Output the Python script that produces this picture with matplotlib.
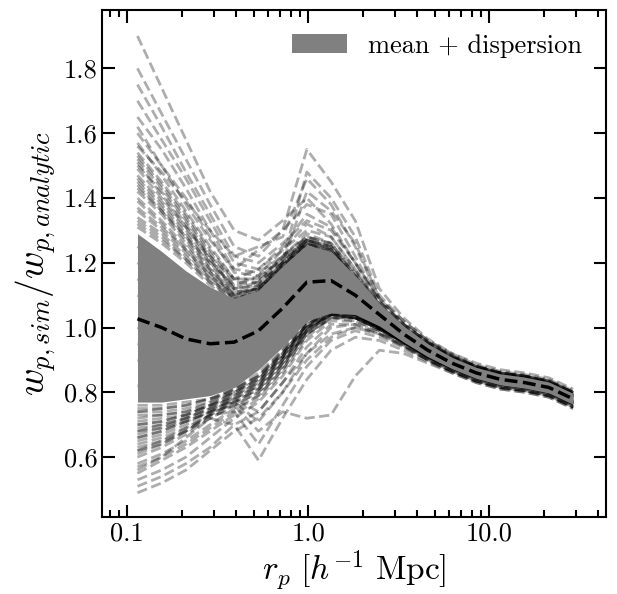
import numpy as np
import matplotlib
matplotlib.use("Agg")
import matplotlib.pyplot as plt
from matplotlib.ticker import FixedLocator, FixedFormatter, LogLocator, NullFormatter

plt.rcParams["font.family"] = "serif"
plt.rcParams["font.serif"] = ["cmr10"]
plt.rcParams["mathtext.fontset"] = "cm"
plt.rcParams["axes.unicode_minus"] = False
plt.rcParams["axes.formatter.use_mathtext"] = True

# projected separation bins (h^-1 Mpc)
R_P = [0.114, 0.155, 0.211, 0.287, 0.390, 0.531, 0.722, 0.982, 1.336, 1.817,
       2.47, 3.36, 4.57, 6.22, 8.46, 11.5, 15.7, 21.3, 29.0]

# mean ratio and mean +/- dispersion
MEAN = [1.027, 1.00, 0.965, 0.95, 0.955, 0.99, 1.06, 1.14, 1.145, 1.10,
        1.04, 0.98, 0.93, 0.89, 0.86, 0.84, 0.83, 0.815, 0.78]
UPPER = [1.29, 1.235, 1.175, 1.125, 1.09, 1.115, 1.19, 1.255, 1.235, 1.16,
         1.075, 1.005, 0.95, 0.908, 0.877, 0.857, 0.847, 0.832, 0.797]
LOWER = [0.77, 0.77, 0.78, 0.79, 0.815, 0.87, 0.94, 1.02, 1.045, 1.04,
         1.005, 0.955, 0.91, 0.873, 0.843, 0.823, 0.813, 0.798, 0.763]

# individual realisations
HIGH = [
    [1.90, 1.74, 1.58, 1.42, 1.30, 1.27, 1.33, 1.40, 1.32, 1.20, 1.09, 1.02, 0.96, 0.92, 0.89, 0.87, 0.86, 0.845, 0.81],
    [1.80, 1.66, 1.52, 1.38, 1.25, 1.22, 1.30, 1.55, 1.45, 1.33, 1.12, 1.03, 0.965, 0.92, 0.885, 0.865, 0.855, 0.84, 0.805],
    [1.75, 1.62, 1.48, 1.35, 1.22, 1.20, 1.26, 1.33, 1.30, 1.20, 1.08, 1.01, 0.955, 0.915, 0.88, 0.86, 0.85, 0.835, 0.80],
    [1.70, 1.58, 1.46, 1.33, 1.20, 1.18, 1.24, 1.30, 1.28, 1.18, 1.07, 1.00, 0.95, 0.91, 0.88, 0.86, 0.85, 0.83, 0.80],
    [1.65, 1.55, 1.43, 1.30, 1.18, 1.17, 1.22, 1.28, 1.26, 1.17, 1.07, 1.00, 0.95, 0.905, 0.875, 0.855, 0.845, 0.83, 0.795],
    [1.60, 1.50, 1.40, 1.28, 1.17, 1.16, 1.21, 1.48, 1.40, 1.28, 1.10, 1.02, 0.96, 0.915, 0.88, 0.86, 0.85, 0.835, 0.80],
    [1.57, 1.47, 1.36, 1.25, 1.15, 1.15, 1.21, 1.27, 1.25, 1.16, 1.06, 0.995, 0.945, 0.905, 0.875, 0.855, 0.845, 0.83, 0.795],
    [1.53, 1.44, 1.34, 1.23, 1.14, 1.14, 1.20, 1.26, 1.24, 1.15, 1.06, 0.99, 0.94, 0.90, 0.87, 0.85, 0.84, 0.825, 0.79],
    [1.50, 1.42, 1.32, 1.21, 1.12, 1.13, 1.20, 1.27, 1.24, 1.15, 1.06, 0.99, 0.94, 0.90, 0.87, 0.85, 0.84, 0.825, 0.79],
    [1.47, 1.39, 1.30, 1.20, 1.12, 1.14, 1.22, 1.29, 1.26, 1.17, 1.07, 1.00, 0.945, 0.905, 0.875, 0.855, 0.845, 0.83, 0.795],
    [1.44, 1.36, 1.28, 1.18, 1.11, 1.12, 1.19, 1.26, 1.23, 1.14, 1.05, 0.99, 0.94, 0.90, 0.87, 0.85, 0.84, 0.825, 0.79],
    [1.42, 1.35, 1.26, 1.17, 1.10, 1.13, 1.20, 1.42, 1.36, 1.26, 1.09, 1.01, 0.955, 0.91, 0.88, 0.86, 0.85, 0.83, 0.80],
    [1.39, 1.32, 1.24, 1.16, 1.10, 1.12, 1.19, 1.25, 1.22, 1.14, 1.05, 0.985, 0.935, 0.895, 0.865, 0.845, 0.835, 0.82, 0.785],
    [1.36, 1.30, 1.23, 1.15, 1.09, 1.11, 1.18, 1.24, 1.22, 1.13, 1.05, 0.985, 0.935, 0.895, 0.865, 0.845, 0.835, 0.82, 0.785],
    [1.33, 1.28, 1.21, 1.14, 1.09, 1.12, 1.19, 1.26, 1.23, 1.15, 1.06, 0.99, 0.94, 0.90, 0.87, 0.85, 0.84, 0.825, 0.79],
    [1.31, 1.26, 1.20, 1.13, 1.08, 1.11, 1.18, 1.25, 1.23, 1.14, 1.05, 0.985, 0.935, 0.895, 0.865, 0.845, 0.835, 0.82, 0.785],
    [1.62, 1.50, 1.38, 1.27, 1.18, 1.24, 1.30, 1.38, 1.35, 1.22, 1.08, 1.01, 0.955, 0.91, 0.88, 0.86, 0.85, 0.835, 0.80],
    [1.56, 1.48, 1.39, 1.30, 1.22, 1.25, 1.28, 1.46, 1.38, 1.25, 1.09, 1.01, 0.955, 0.91, 0.88, 0.86, 0.85, 0.835, 0.80],
    [1.54, 1.45, 1.35, 1.24, 1.15, 1.15, 1.22, 1.28, 1.26, 1.16, 1.07, 1.00, 0.945, 0.905, 0.875, 0.855, 0.845, 0.83, 0.795],
    [1.52, 1.43, 1.33, 1.22, 1.13, 1.14, 1.21, 1.27, 1.25, 1.16, 1.06, 0.995, 0.945, 0.905, 0.875, 0.855, 0.845, 0.83, 0.795],
    [1.49, 1.40, 1.31, 1.21, 1.12, 1.13, 1.20, 1.28, 1.25, 1.15, 1.06, 0.99, 0.94, 0.90, 0.87, 0.85, 0.84, 0.825, 0.79],
    [1.46, 1.38, 1.29, 1.19, 1.11, 1.12, 1.20, 1.27, 1.24, 1.15, 1.06, 0.99, 0.94, 0.90, 0.87, 0.85, 0.84, 0.825, 0.79],
    [1.43, 1.36, 1.27, 1.18, 1.10, 1.12, 1.19, 1.26, 1.24, 1.14, 1.05, 0.99, 0.94, 0.90, 0.87, 0.85, 0.84, 0.825, 0.79],
    [1.40, 1.33, 1.25, 1.17, 1.10, 1.12, 1.19, 1.27, 1.25, 1.15, 1.06, 0.99, 0.94, 0.90, 0.87, 0.85, 0.84, 0.825, 0.79],
    [1.37, 1.31, 1.24, 1.16, 1.09, 1.11, 1.18, 1.26, 1.23, 1.14, 1.05, 0.985, 0.935, 0.895, 0.865, 0.845, 0.835, 0.82, 0.785],
    [1.34, 1.29, 1.22, 1.15, 1.09, 1.11, 1.19, 1.27, 1.24, 1.15, 1.06, 0.99, 0.94, 0.90, 0.87, 0.85, 0.84, 0.825, 0.79],
    [1.32, 1.27, 1.21, 1.14, 1.08, 1.11, 1.18, 1.26, 1.23, 1.14, 1.05, 0.985, 0.935, 0.895, 0.865, 0.845, 0.835, 0.82, 0.785],
    [1.45, 1.37, 1.28, 1.20, 1.13, 1.16, 1.24, 1.32, 1.28, 1.18, 1.07, 1.00, 0.95, 0.91, 0.88, 0.86, 0.85, 0.835, 0.80],
    [1.51, 1.41, 1.31, 1.22, 1.15, 1.18, 1.25, 1.35, 1.31, 1.20, 1.08, 1.01, 0.955, 0.91, 0.88, 0.86, 0.85, 0.835, 0.80],
]
LOW = [
    [0.49, 0.52, 0.56, 0.62, 0.68, 0.72, 0.80, 0.92, 1.00, 1.01, 0.98, 0.94, 0.90, 0.865, 0.835, 0.815, 0.805, 0.79, 0.755],
    [0.51, 0.54, 0.58, 0.63, 0.70, 0.74, 0.83, 0.94, 1.01, 1.01, 0.985, 0.945, 0.90, 0.865, 0.835, 0.815, 0.805, 0.79, 0.755],
    [0.53, 0.56, 0.60, 0.66, 0.72, 0.77, 0.85, 0.96, 1.02, 1.02, 0.99, 0.95, 0.905, 0.87, 0.84, 0.82, 0.81, 0.795, 0.76],
    [0.55, 0.59, 0.63, 0.68, 0.73, 0.78, 0.86, 0.97, 1.03, 1.02, 0.99, 0.95, 0.905, 0.87, 0.84, 0.82, 0.81, 0.795, 0.76],
    [0.58, 0.61, 0.65, 0.70, 0.75, 0.79, 0.87, 0.98, 1.03, 1.03, 0.995, 0.955, 0.91, 0.875, 0.845, 0.825, 0.815, 0.80, 0.765],
    [0.60, 0.63, 0.67, 0.72, 0.76, 0.80, 0.88, 0.99, 1.04, 1.03, 0.995, 0.955, 0.91, 0.875, 0.845, 0.825, 0.815, 0.80, 0.765],
    [0.63, 0.65, 0.69, 0.73, 0.77, 0.81, 0.89, 0.99, 1.04, 1.03, 1.00, 0.955, 0.91, 0.875, 0.845, 0.825, 0.815, 0.80, 0.765],
    [0.65, 0.67, 0.70, 0.74, 0.78, 0.82, 0.90, 1.00, 1.04, 1.04, 1.00, 0.96, 0.915, 0.88, 0.85, 0.83, 0.82, 0.805, 0.77],
    [0.67, 0.69, 0.72, 0.75, 0.79, 0.83, 0.91, 1.00, 1.05, 1.04, 1.00, 0.96, 0.915, 0.88, 0.85, 0.83, 0.82, 0.805, 0.77],
    [0.70, 0.71, 0.73, 0.76, 0.80, 0.84, 0.91, 1.01, 1.05, 1.04, 1.005, 0.96, 0.915, 0.88, 0.85, 0.83, 0.82, 0.805, 0.77],
    [0.72, 0.73, 0.74, 0.77, 0.80, 0.84, 0.92, 1.01, 1.05, 1.04, 1.005, 0.96, 0.915, 0.88, 0.85, 0.83, 0.82, 0.805, 0.77],
    [0.74, 0.74, 0.75, 0.77, 0.81, 0.85, 0.92, 1.01, 1.04, 1.03, 1.00, 0.955, 0.91, 0.875, 0.845, 0.825, 0.815, 0.80, 0.765],
    [0.75, 0.75, 0.76, 0.78, 0.81, 0.86, 0.93, 1.02, 1.05, 1.04, 1.00, 0.955, 0.91, 0.875, 0.845, 0.825, 0.815, 0.80, 0.765],
    [0.76, 0.76, 0.77, 0.78, 0.80, 0.85, 0.92, 1.00, 1.04, 1.03, 0.995, 0.955, 0.91, 0.875, 0.845, 0.825, 0.815, 0.80, 0.765],
    [0.57, 0.60, 0.64, 0.69, 0.74, 0.79, 0.87, 0.98, 1.03, 1.03, 0.995, 0.955, 0.91, 0.875, 0.845, 0.825, 0.815, 0.80, 0.765],
    [0.61, 0.64, 0.68, 0.72, 0.76, 0.80, 0.88, 0.99, 1.04, 1.03, 1.00, 0.955, 0.91, 0.875, 0.845, 0.825, 0.815, 0.80, 0.765],
    [0.64, 0.66, 0.69, 0.73, 0.77, 0.81, 0.89, 0.99, 1.04, 1.04, 1.00, 0.96, 0.915, 0.88, 0.85, 0.83, 0.82, 0.805, 0.77],
    [0.66, 0.68, 0.71, 0.74, 0.78, 0.82, 0.90, 1.00, 1.04, 1.04, 1.00, 0.96, 0.915, 0.88, 0.85, 0.83, 0.82, 0.805, 0.77],
    [0.69, 0.70, 0.72, 0.75, 0.79, 0.83, 0.91, 1.00, 1.05, 1.04, 1.00, 0.96, 0.915, 0.88, 0.85, 0.83, 0.82, 0.805, 0.77],
    [0.71, 0.72, 0.73, 0.76, 0.79, 0.83, 0.91, 1.01, 1.05, 1.04, 1.005, 0.96, 0.915, 0.88, 0.85, 0.83, 0.82, 0.805, 0.77],
    [0.73, 0.73, 0.74, 0.76, 0.80, 0.84, 0.92, 1.01, 1.05, 1.04, 1.00, 0.955, 0.91, 0.875, 0.845, 0.825, 0.815, 0.80, 0.765],
    [0.74, 0.75, 0.76, 0.78, 0.81, 0.85, 0.93, 1.02, 1.05, 1.04, 1.00, 0.955, 0.91, 0.875, 0.845, 0.825, 0.815, 0.80, 0.765],
    [0.68, 0.69, 0.71, 0.74, 0.78, 0.82, 0.90, 0.99, 1.04, 1.03, 0.995, 0.955, 0.91, 0.875, 0.845, 0.825, 0.815, 0.80, 0.765],
    [0.62, 0.65, 0.68, 0.73, 0.77, 0.81, 0.89, 0.98, 1.03, 1.03, 0.995, 0.955, 0.91, 0.875, 0.845, 0.825, 0.815, 0.80, 0.765],
]
DIP = [
    [0.56, 0.60, 0.66, 0.72, 0.70, 0.59, 0.72, 0.84, 0.93, 0.97, 0.96, 0.93, 0.895, 0.86, 0.83, 0.81, 0.80, 0.785, 0.75],
    [0.62, 0.64, 0.68, 0.73, 0.74, 0.64, 0.76, 0.88, 0.96, 0.99, 0.97, 0.94, 0.90, 0.865, 0.835, 0.815, 0.805, 0.79, 0.755],
    [0.66, 0.68, 0.71, 0.74, 0.76, 0.68, 0.74, 0.72, 0.73, 0.85, 0.93, 0.92, 0.89, 0.86, 0.83, 0.81, 0.80, 0.785, 0.75],
    [0.68, 0.70, 0.72, 0.75, 0.77, 0.71, 0.80, 0.90, 0.97, 1.00, 0.98, 0.945, 0.90, 0.865, 0.835, 0.815, 0.805, 0.79, 0.755],
    [0.70, 0.71, 0.73, 0.76, 0.78, 0.74, 0.83, 0.92, 0.98, 1.00, 0.98, 0.945, 0.90, 0.865, 0.835, 0.815, 0.805, 0.79, 0.755],
]
MID = [
    [1.25, 1.20, 1.15, 1.10, 1.06, 1.09, 1.17, 1.24, 1.22, 1.13, 1.05, 0.985, 0.935, 0.895, 0.865, 0.845, 0.835, 0.82, 0.785],
    [1.20, 1.15, 1.10, 1.06, 1.04, 1.07, 1.15, 1.23, 1.21, 1.12, 1.04, 0.98, 0.93, 0.89, 0.86, 0.84, 0.83, 0.815, 0.78],
    [1.15, 1.10, 1.05, 1.02, 1.01, 1.05, 1.13, 1.21, 1.20, 1.11, 1.04, 0.98, 0.93, 0.89, 0.86, 0.84, 0.83, 0.815, 0.78],
    [1.10, 1.06, 1.02, 0.99, 0.98, 1.02, 1.10, 1.18, 1.18, 1.10, 1.03, 0.975, 0.925, 0.885, 0.855, 0.835, 0.825, 0.81, 0.775],
    [1.00, 0.97, 0.94, 0.93, 0.94, 0.98, 1.06, 1.14, 1.15, 1.10, 1.03, 0.97, 0.92, 0.88, 0.85, 0.83, 0.82, 0.805, 0.77],
    [0.95, 0.93, 0.91, 0.90, 0.92, 0.96, 1.04, 1.12, 1.13, 1.09, 1.025, 0.97, 0.92, 0.88, 0.85, 0.83, 0.82, 0.805, 0.77],
    [0.90, 0.88, 0.87, 0.87, 0.89, 0.94, 1.02, 1.10, 1.12, 1.08, 1.02, 0.97, 0.92, 0.88, 0.85, 0.83, 0.82, 0.805, 0.77],
    [0.82, 0.81, 0.82, 0.83, 0.86, 0.91, 0.98, 1.06, 1.09, 1.06, 1.01, 0.96, 0.915, 0.88, 0.85, 0.83, 0.82, 0.805, 0.77],
]

X_TICKS = [0.1, 1.0, 10.0]
X_TICK_LABELS = ["0.1", "1.0", "10.0"]
Y_TICKS = [0.6, 0.8, 1.0, 1.2, 1.4, 1.6, 1.8]


def main():
    fig = plt.figure(figsize=(6.17, 5.94), dpi=100)
    ax = fig.add_axes([0.166, 0.129, 0.816, 0.854])

    for curve in HIGH + LOW + DIP + MID:
        ax.plot(R_P, curve, ls="--", color="k", alpha=0.32, lw=2.0, zorder=1)

    ax.fill_between(R_P, LOWER, UPPER, color="#808080", lw=0,
                    label="mean + dispersion", zorder=2)
    ax.plot(R_P, MEAN, ls="--", color="k", lw=2.5, zorder=3)

    ax.set_xscale("log")
    ax.set_xlim(0.073, 44)
    ax.set_ylim(0.414, 1.98)

    ax.xaxis.set_major_locator(FixedLocator(X_TICKS))
    ax.xaxis.set_major_formatter(FixedFormatter(X_TICK_LABELS))
    ax.xaxis.set_minor_locator(LogLocator(base=10, subs=np.arange(2, 10)))
    ax.xaxis.set_minor_formatter(NullFormatter())
    ax.set_yticks(Y_TICKS)
    ax.set_yticklabels([f"{v:.1f}" for v in Y_TICKS])

    ax.tick_params(which="both", direction="in", top=True, right=True,
                   labelsize=19, width=1.5)
    ax.tick_params(which="major", length=9)
    ax.tick_params(which="minor", length=5)
    for sp in ax.spines.values():
        sp.set_linewidth(1.5)

    ax.set_xlabel(r"$r_p\ [h^{-1}\ \mathrm{Mpc}]$", fontsize=24, labelpad=2)
    ax.set_ylabel(r"$w_{p,sim}/w_{p,analytic}$", fontsize=27)
    ax.legend(loc="upper right", frameon=False, fontsize=19, handlelength=2.1,
              borderaxespad=0.5)

    fig.savefig("out.png", dpi=100)
    plt.close(fig)


if __name__ == "__main__":
    main()
